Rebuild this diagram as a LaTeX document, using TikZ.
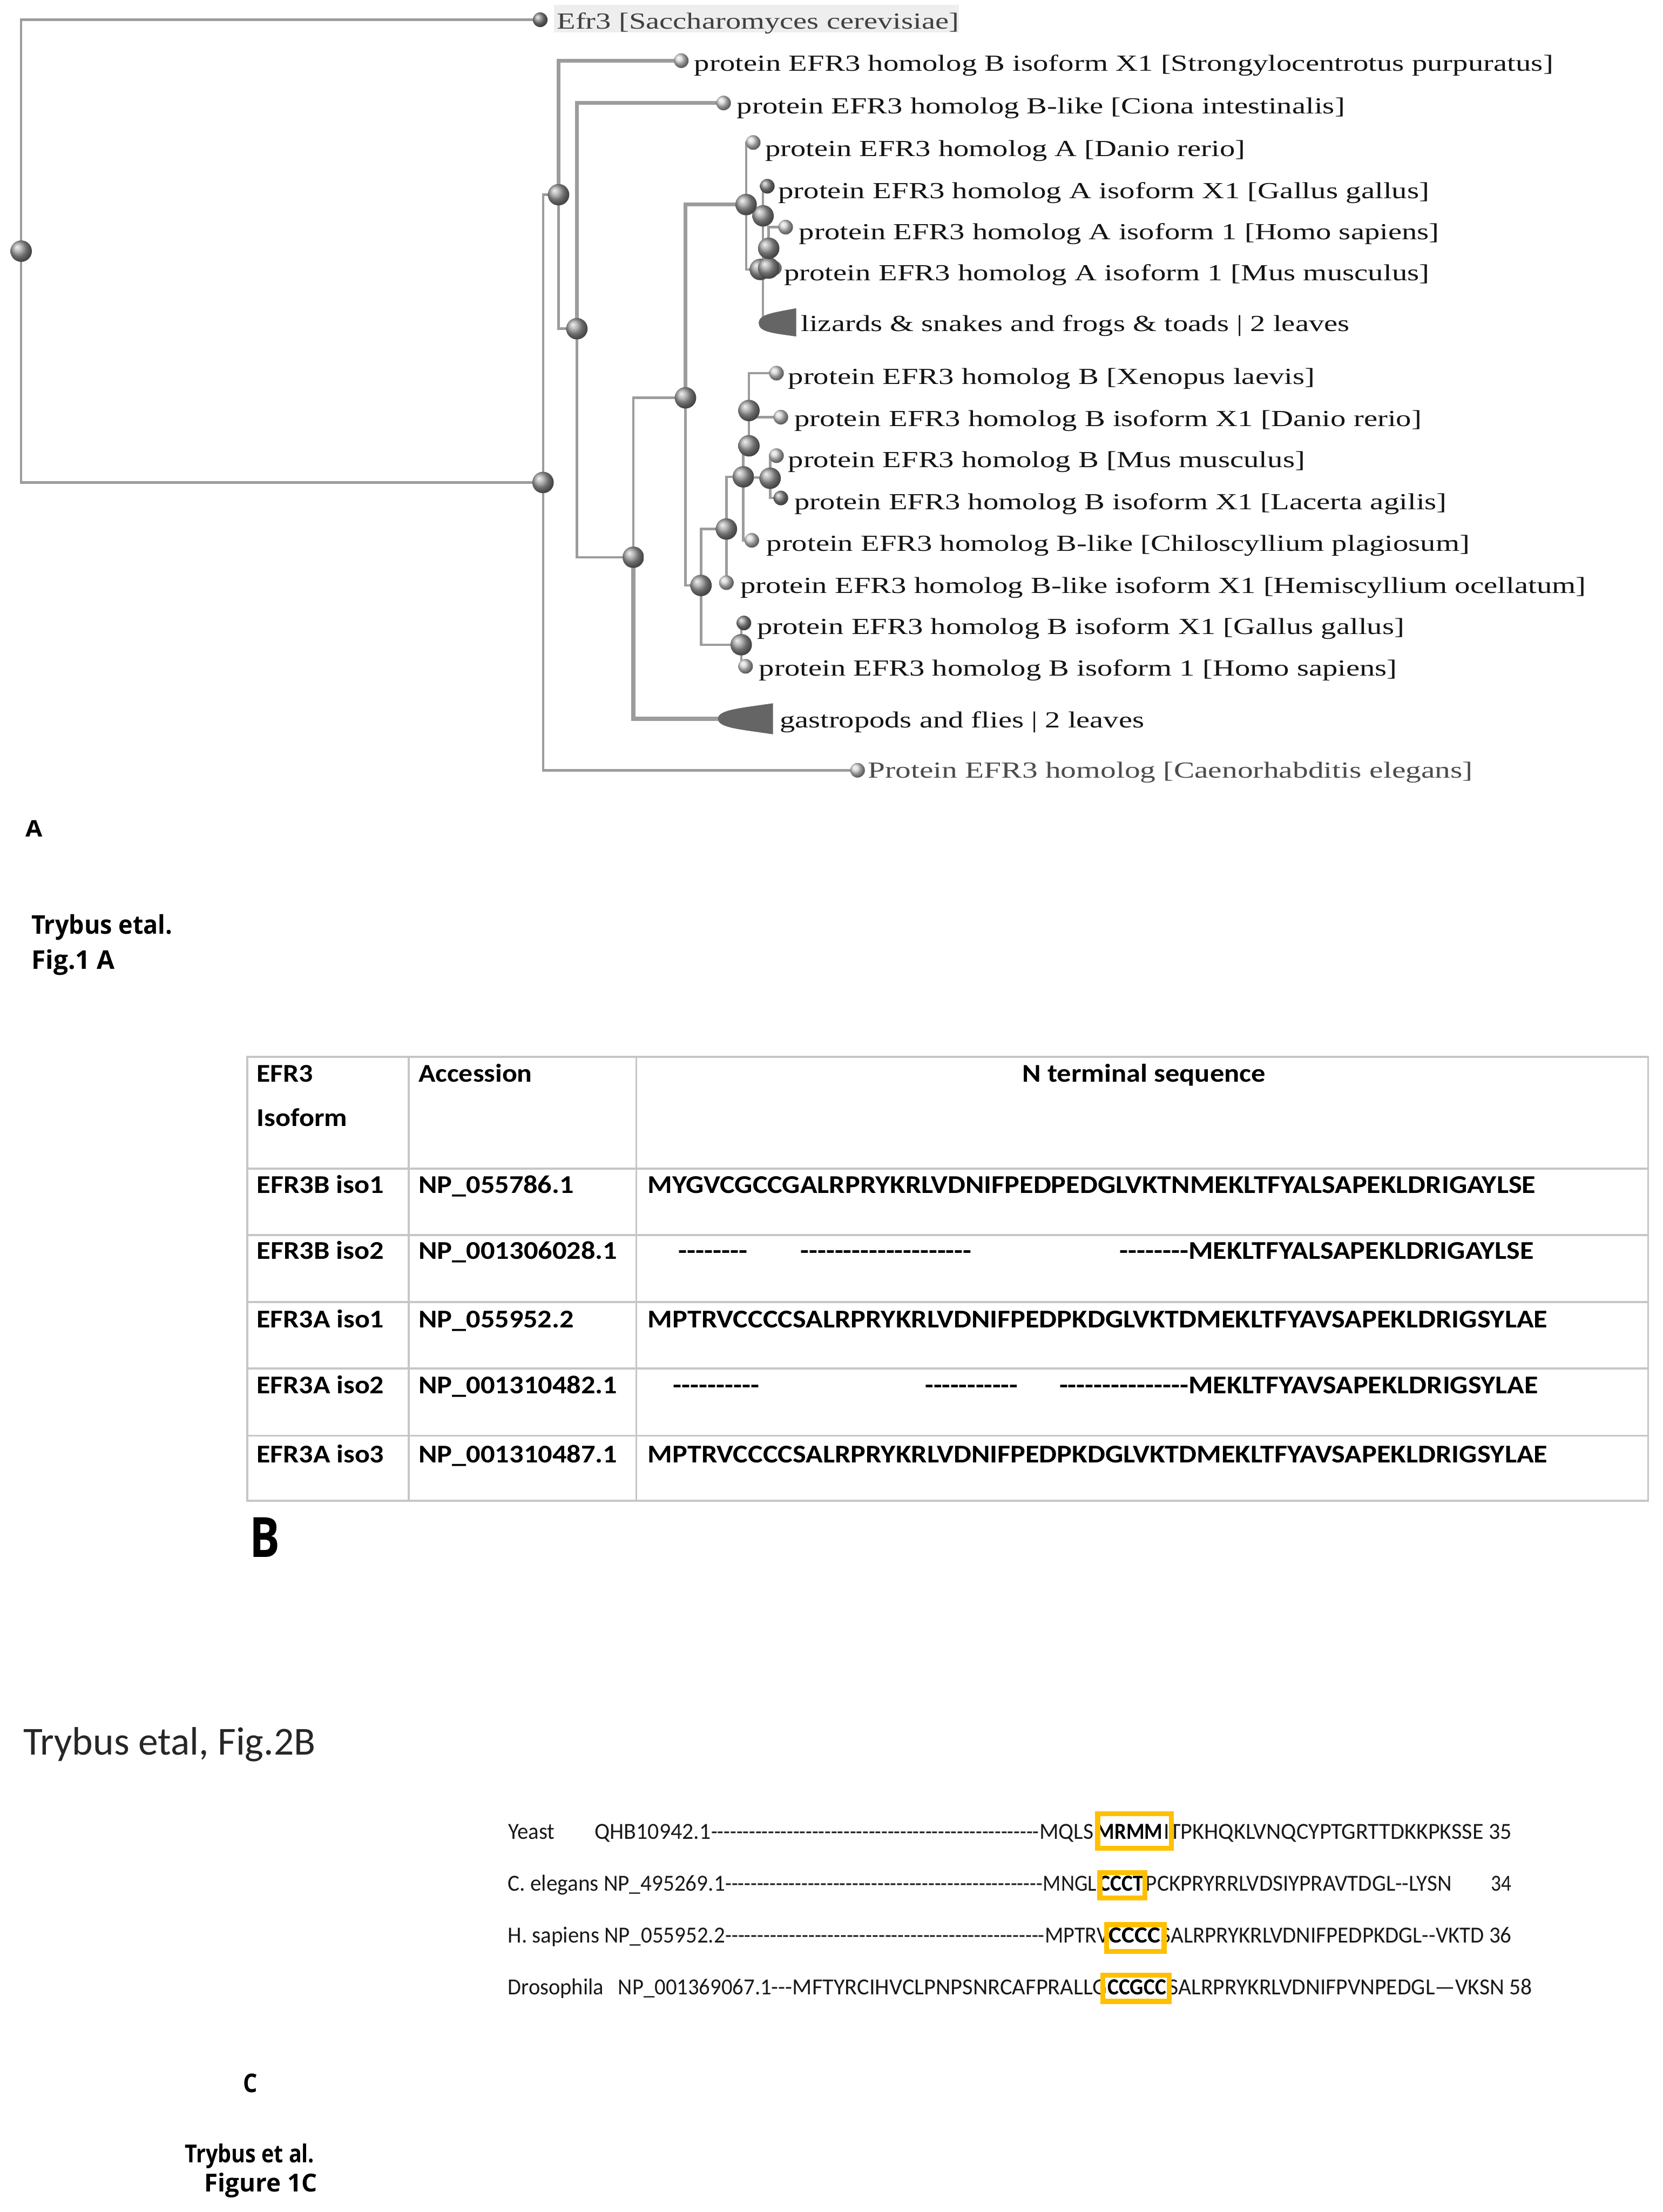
\documentclass[tikz,border=0pt]{standalone}
\usepackage{fontspec}
\usepackage{graphicx}
\setmainfont{Liberation Serif}
\newfontfamily\cf{Carlito}
\newfontfamily\osf{Open Sans}
\definecolor{treegray}{HTML}{9C9C9C}
\definecolor{boxorange}{HTML}{FFC000}
\definecolor{cladegray}{HTML}{656565}
\ExplSyntaxOn
\cs_new:Npn \replic #1#2 { \prg_replicate:nn {#1} {#2} }
\ExplSyntaxOff
\newbox\fitbox
\newdimen\fitA
\newdimen\fitB
\newcommand\fitpx[2]{\setbox\fitbox=\hbox{#2}\fitA=0.025cm\relax\fitA=#1\fitA\relax\fitB=\wd\fitbox\relax\pgfmathsetmacro\fitr{\fitA/\fitB}\scalebox{\fitr}[1]{\box\fitbox}}
\pgfdeclarelayer{bgwhite}
\pgfdeclarelayer{background}
\pgfsetlayers{bgwhite,background,main}
\begin{document}
\begin{tikzpicture}[x=0.025cm,y=-0.025cm,
  tl/.style={draw=treegray, line width=1.2pt},
  tlw/.style={draw=treegray, line width=2pt},
  inode/.style={circle, inner sep=0pt, minimum size=0.38cm, shading=ball, ball color=gray!75},
  leafl/.style={circle, inner sep=0pt, minimum size=0.26cm, shading=ball, ball color=gray!35},
  leafd/.style={circle, inner sep=0pt, minimum size=0.26cm, shading=ball, ball color=gray!90},
  clade/.style={fill=cladegray},
  tlab/.style={anchor=base west, inner sep=0pt, text=black!92, font=\fontsize{11.6pt}{13pt}\selectfont},
  tb/.style={anchor=base west, inner sep=0pt, text=black, font=\cf\bfseries\fontsize{12.9pt}{14pt}\selectfont},
  al/.style={anchor=base west, inner sep=0pt, text=black!90, font=\cf\fontsize{11.6pt}{13pt}\selectfont},
  alb/.style={anchor=base west, inner sep=0pt, text=black, font=\cf\bfseries\fontsize{11.6pt}{13pt}\selectfont},
  hl/.style={draw=boxorange, line width=2.5pt},
  tabline/.style={draw=gray!45, line width=1pt},
  lab/.style={anchor=base west, inner sep=0pt, text=black}
]
\begin{pgfonlayer}{bgwhite}
\fill[white] (0,0) rectangle (1179,1568);
\end{pgfonlayer}
\useasboundingbox (0,0) rectangle (1179,1568);

% ---------------- tree nodes ----------------
\node[inode] (R) at (15,178) {};
\node[leafd] (E0) at (383,14) {};
\node[inode] (N1) at (385,342) {};
\node[inode] (N2) at (396,138) {};
\node[inode] (N3) at (409,233) {};
\node[inode] (N4) at (449,395) {};
\node[inode] (N5) at (486,282) {};
\node[leafl] (L1) at (483,43) {};
\node[leafl] (L2) at (513,73) {};
\node[leafl] (L3) at (534,101) {};
\node[leafd] (L4) at (544,132) {};
\node[leafl] (L5) at (557,161) {};
\node[leafl] (L6) at (549,190) {};
\node[inode] (NA4) at (539,191) {};
\node[inode] (NA5) at (545,190) {};
\node[inode] (NA3) at (545,176) {};
\node[inode] (NA2) at (541,153) {};
\node[inode] (NA) at (529,145) {};
\node[leafl] (L7) at (550.5,264.5) {};
\node[leafl] (L8) at (553.6,295.7) {};
\node[leafl] (L9) at (550.5,323) {};
\node[leafd] (L10) at (553.6,353) {};
\node[leafl] (L11) at (533,383) {};
\node[leafl] (L12) at (515,413) {};
\node[leafd] (L13) at (527.4,441.6) {};
\node[leafl] (L14) at (528.6,472.3) {};
\node[inode] (NB6) at (531,291) {};
\node[inode] (NB4) at (531,316) {};
\node[inode] (NB5) at (546,339) {};
\node[inode] (NB3) at (527,338) {};
\node[inode] (NB1) at (515,375) {};
\node[inode] (NB) at (497,415) {};
\node[inode] (NB2) at (525.5,457) {};
\node[leafl] (L15) at (608,546) {};
\coordinate (T1) at (538,229);
\coordinate (T2) at (509,509.5);

\begin{pgfonlayer}{background}
\fill[gray!13] (392.7,3.4) rectangle (680,23);
\draw[tl] (R.center) |- (E0.center);
\draw[tl] (R.center) |- (N1.center);
\draw[tl] (N1.center) |- (N2.center);
\draw[tl] (N1.center) |- (L15.center);
\draw[tlw] (N2.center) |- (L1.center);
\draw[tl] (N2.center) |- (N3.center);
\draw[tlw] (N3.center) |- (L2.center);
\draw[tl] (N3.center) |- (N4.center);
\draw[tl] (N4.center) |- (N5.center);
\draw[tlw] (N4.center) |- (T2);
\draw[tlw] (N5.center) |- (NA.center);
\draw[tl] (N5.center) |- (NB.center);
\draw[tl] (NA.center) |- (L3.center);
\draw[tl] (NA.center) |- (NA4.center);
\draw[tl] (NA2.center) |- (L4.center);
\draw[tl] (NA2.center) |- (T1);
\draw[tl] (NA3.center) |- (L5.center);
\draw[tl] (NA3.center) |- (L6.center);
\draw[tl] (NB.center) |- (NB1.center);
\draw[tl] (NB.center) |- (NB2.center);
\draw[tl] (NB1.center) |- (NB3.center);
\draw[tl] (NB1.center) -- (L12.center);
\draw[tl] (NB3.center) |- (L11.center);
\draw[tl] (NB3.center) |- (NB4.center);
\draw[tl] (NB3.center) -- (NB5.center);
\draw[tl] (NB4.center) -- (NB6.center);
\draw[tl] (NB6.center) |- (L7.center);
\draw[tl] (NB6.center) |- (L8.center);
\draw[tl] (NB5.center) |- (L9.center);
\draw[tl] (NB5.center) |- (L10.center);
\draw[tl] (NB2.center) |- (L13.center);
\draw[tl] (NB2.center) |- (L14.center);
\end{pgfonlayer}

% collapsed clades
\fill[clade] (T1) .. controls (538,223) and (546,222) .. (564.5,218.5) -- (564.5,238.5) .. controls (546,236) and (538,235) .. (T1);
\fill[clade] (T2) .. controls (509,503) and (525,502) .. (548,498.5) -- (548,520.5) .. controls (525,517) and (509,516) .. (T2);

% tree labels
\node[tlab, text=black!75] (t0) at (394.6,20.5) {\fitpx{285}{Efr3 [Saccharomyces cerevisiae]}};
\node[tlab] (t1) at (492,50.5) {\fitpx{609}{protein EFR3 homolog B isoform X1 [Strongylocentrotus purpuratus]}};
\node[tlab] (t2) at (522.2,80.5) {\fitpx{431}{protein EFR3 homolog B-like [Ciona intestinalis]}};
\node[tlab] (t3) at (542.2,110.7) {\fitpx{340.4}{protein EFR3 homolog A [Danio rerio]}};
\node[tlab] (t4) at (551.4,140.6) {\fitpx{461.8}{protein EFR3 homolog A isoform X1 [Gallus gallus]}};
\node[tlab] (t5) at (566.2,169.7) {\fitpx{454}{protein EFR3 homolog A isoform 1 [Homo sapiens]}};
\node[tlab] (t6) at (555.6,199) {\fitpx{457.6}{protein EFR3 homolog A isoform 1 [Mus musculus]}};
\node[tlab] (t7) at (567.6,235) {\fitpx{389}{lizards \& snakes and frogs \& toads | 2 leaves}};
\node[tlab] (t8) at (558.5,272.3) {\fitpx{373.5}{protein EFR3 homolog B [Xenopus laevis]}};
\node[tlab] (t9) at (563,302.2) {\fitpx{444.7}{protein EFR3 homolog B isoform X1 [Danio rerio]}};
\node[tlab] (t10) at (558.5,331.5) {\fitpx{366.5}{protein EFR3 homolog B [Mus musculus]}};
\node[tlab] (t11) at (563,361) {\fitpx{462.5}{protein EFR3 homolog B isoform X1 [Lacerta agilis]}};
\node[tlab] (t12) at (543.2,390.8) {\fitpx{498.5}{protein EFR3 homolog B-like [Chiloscyllium plagiosum]}};
\node[tlab] (t13) at (524.7,420.6) {\fitpx{599.6}{protein EFR3 homolog B-like isoform X1 [Hemiscyllium ocellatum]}};
\node[tlab] (t14) at (536.5,449.5) {\fitpx{459}{protein EFR3 homolog B isoform X1 [Gallus gallus]}};
\node[tlab] (t15) at (537.9,479.2) {\fitpx{452.4}{protein EFR3 homolog B isoform 1 [Homo sapiens]}};
\node[tlab] (t16) at (552.5,516) {\fitpx{258.5}{gastropods and flies | 2 leaves}};
\node[tlab, text=black!70] (t17) at (615,551.4) {\fitpx{429}{Protein EFR3 homolog [Caenorhabditis elegans]}};

% panel A labels
\node[lab, font=\osf\bfseries\fontsize{11.5pt}{13pt}\selectfont] (labA) at (18,593) {\fitpx{12}{A}};
\node[lab, font=\osf\bfseries\fontsize{13pt}{15pt}\selectfont] (capA1) at (22,662) {\fitpx{100}{Trybus etal.}};
\node[lab, font=\osf\bfseries\fontsize{13pt}{15pt}\selectfont] (capA2) at (22,687) {\fitpx{59}{Fig.1 A}};

% ---------------- table (panel B) ----------------
\draw[tabline] (175.2,749.1) rectangle (1168.5,1063.8);
\foreach \yy in {828.4,875.4,923,970,1017.7} \draw[tabline] (175.2,\yy) -- (1168.5,\yy);
\foreach \xx in {289.9,451.2} \draw[tabline] (\xx,749.1) -- (\xx,1063.8);

\node[tb] (h1) at (181.7,767) {\fitpx{40}{EFR3}};
\node[tb] (h1b) at (181.7,798.5) {\fitpx{64.3}{Isoform}};
\node[tb] (h2) at (296.5,767) {\fitpx{80.6}{Accession}};
\node[tb] (h3) at (724.6,767) {\fitpx{172.5}{N terminal sequence}};

\node[tb] (r1a) at (181.7,846) {\fitpx{90.3}{EFR3B iso1}};
\node[tb] (r1b) at (296.5,846) {\fitpx{110.1}{NP\_055786.1}};
\node[tb] (r1c) at (459,846) {\fitpx{629.5}{MYGVCGCCGALRPRYKRLVDNIFPEDPEDGLVKTNMEKLTFYALSAPEKLDRIGAYLSE}};

\node[tb] (r2a) at (181.7,892.6) {\fitpx{90.3}{EFR3B iso2}};
\node[tb] (r2b) at (296.5,892.6) {\fitpx{140.9}{NP\_001306028.1}};
\node[tb] (r2c) at (480.7,892.6) {\fitpx{49.2}{\replic{8}{-{}}}};
\node[tb] (r2d) at (567.3,892.6) {\fitpx{121.3}{\replic{20}{-{}}}};
\node[tb] (r2e) at (793.4,892.6) {\fitpx{293.8}{\replic{8}{-{}}MEKLTFYALSAPEKLDRIGAYLSE}};

\node[tb] (r3a) at (181.7,941.3) {\fitpx{90.3}{EFR3A iso1}};
\node[tb] (r3b) at (296.5,941.3) {\fitpx{110.1}{NP\_055952.2}};
\node[tb] (r3c) at (459,941.3) {\fitpx{638}{MPTRVCCCCSALRPRYKRLVDNIFPEDPKDGLVKTDMEKLTFYAVSAPEKLDRIGSYLAE}};

\node[tb] (r4a) at (181.7,988) {\fitpx{90.3}{EFR3A iso2}};
\node[tb] (r4b) at (296.5,988) {\fitpx{140.9}{NP\_001310482.1}};
\node[tb] (r4c) at (477,988) {\fitpx{61}{\replic{10}{-{}}}};
\node[tb] (r4d) at (655.7,988) {\fitpx{65.7}{\replic{11}{-{}}}};
\node[tb] (r4e) at (750.8,988) {\fitpx{339.5}{\replic{15}{-{}}MEKLTFYAVSAPEKLDRIGSYLAE}};

\node[tb] (r5a) at (181.7,1036.7) {\fitpx{90.3}{EFR3A iso3}};
\node[tb] (r5b) at (296.5,1036.7) {\fitpx{140.9}{NP\_001310487.1}};
\node[tb] (r5c) at (459,1036.7) {\fitpx{638}{MPTRVCCCCSALRPRYKRLVDNIFPEDPKDGLVKTDMEKLTFYAVSAPEKLDRIGSYLAE}};

\node[lab, font=\osf\bfseries\fontsize{28pt}{30pt}\selectfont] (labB) at (176.6,1104) {\fitpx{21.4}{B}};

% ---------------- panel C ----------------
\node[lab, text=black!85, font=\cf\fontsize{20pt}{22pt}\selectfont] (capB) at (16.4,1243.8) {\fitpx{207}{Trybus etal, Fig.2B}};

% Yeast
\node[al] (y1) at (360,1303.5) {\fitpx{33}{Yeast}};
\node[al] (y2) at (421.4,1303.5) {\fitpx{82.3}{QHB10942.1}};
\node[al] (y3) at (504,1303.5) {\fitpx{232.5}{\replic{52}{-{}}}};
\node[al] (y4) at (736.7,1303.5) {\fitpx{38.3}{MQLS}};
\node[alb] (y5) at (777.2,1303.5) {\fitpx{46.8}{MRMM}};
\node[al] (y6) at (825,1303.5) {\fitpx{246.5}{ITPKHQKLVNQCYPTGRTTDKKPKSSE 35}};
% C. elegans
\node[al] (c1) at (359.8,1340.5) {\fitpx{154}{C. elegans NP\_495269.1}};
\node[al] (c2) at (514,1340.5) {\fitpx{225}{\replic{50}{-{}}}};
\node[al] (c3) at (739.3,1340.5) {\fitpx{38}{MNGL}};
\node[alb] (c4) at (779,1340.5) {\fitpx{31.8}{CCCT}};
\node[al] (c5) at (812,1340.5) {\fitpx{217}{PCKPRYRRLVDSIYPRAVTDGL-{}-LYSN}};
\node[al] (c6) at (1057,1340.5) {\fitpx{14.5}{34}};
% H. sapiens
\node[al] (s1) at (359.8,1377) {\fitpx{154}{H. sapiens NP\_055952.2}};
\node[al] (s2) at (514,1377) {\fitpx{226.5}{\replic{50}{-{}}}};
\node[al] (s3) at (740.6,1377) {\fitpx{45.4}{MPTRV}};
\node[alb] (s4) at (786,1377) {\fitpx{36.7}{CCCC}};
\node[al] (s5) at (822.7,1377) {\fitpx{248.8}{SALRPRYKRLVDNIFPEDPKDGL-{}-VKTD 36}};
% Drosophila
\node[al] (d1) at (359.8,1414) {\fitpx{68}{Drosophila}};
\node[al] (d2) at (438,1414) {\fitpx{108.7}{NP\_001369067.1}};
\node[al] (d3) at (546.7,1414) {\fitpx{237.8}{-{}-{}-MFTYRCIHVCLPNPSNRCAFPRALLG}};
\node[alb] (d4) at (785,1414) {\fitpx{41.6}{CCGCC}};
\node[al] (d5) at (828,1414) {\fitpx{258}{SALRPRYKRLVDNIFPVNPEDGL—VKSN 58}};

% highlight boxes
\draw[hl] (778.25,1285.75) rectangle (830.55,1310.25);
\draw[hl] (779.75,1327.25) rectangle (811.75,1345.25);
\draw[hl] (784.45,1364.35) rectangle (825.35,1383.25);
\draw[hl] (781.75,1400.15) rectangle (828.85,1418.65);

\node[lab, font=\osf\bfseries\fontsize{13pt}{15pt}\selectfont] (labC) at (172.3,1483.3) {\fitpx{10.1}{C}};
\node[lab, font=\osf\bfseries\fontsize{12.5pt}{14pt}\selectfont] (capC1) at (130.8,1533) {\fitpx{91.8}{Trybus et al.}};
\node[lab, font=\osf\bfseries\fontsize{12.5pt}{14pt}\selectfont] (capC2) at (144.6,1553.6) {\fitpx{80}{Figure 1C}};
\end{tikzpicture}
\end{document}
